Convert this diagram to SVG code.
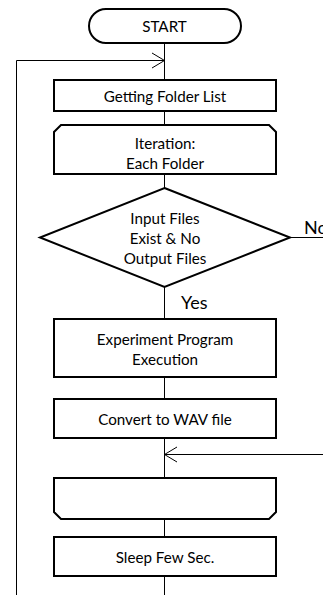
<svg xmlns="http://www.w3.org/2000/svg" width="323" height="595" viewBox="0 0 323 595">
  <style>
    .box { fill: #fff; stroke: #000; stroke-width: 2; }
    .wire { fill: none; stroke: #000; stroke-width: 1; }
    .lbl { font-family: Lato, "Liberation Sans", sans-serif; font-size: 15.2px; fill: #000; text-anchor: middle; dominant-baseline: central; }
    .big { font-size: 18px; text-anchor: start; }
  </style>

  <g id="connectors">
    <!-- main spine -->
    <line class="wire" x1="164.5" y1="43" x2="164.5" y2="595"/>
    <!-- return loop on the left -->
    <polyline class="wire" points="16.5,595 16.5,60.5 164.5,60.5"/>
    <polyline class="wire" points="152,53 164.5,60.5 152,68"/>
    <!-- "No" branch leaving to the right -->
    <line class="wire" x1="290" y1="237.5" x2="323" y2="237.5"/>
    <!-- join coming back from the right -->
    <line class="wire" x1="164.5" y1="454.5" x2="323" y2="454.5"/>
    <polyline class="wire" points="177,447 164.5,454.5 177,462"/>
  </g>

  <g id="start">
    <rect class="box" x="89" y="9" width="152" height="34" rx="17"/>
    <text class="lbl" x="164.5" y="26">START</text>
  </g>

  <g id="folder-list">
    <rect class="box" x="54" y="80" width="222" height="31"/>
    <text class="lbl" x="165" y="96">Getting Folder List</text>
  </g>

  <g id="loop-begin">
    <path class="box" d="M61,125 H269 L276,132 V174 H54 V132 Z"/>
    <text class="lbl" x="165" y="143">Iteration:</text>
    <text class="lbl" x="165" y="163">Each Folder</text>
  </g>

  <g id="check-files">
    <path class="box" d="M164.5,188 L290,237.5 L164.5,287 L40,237.5 Z"/>
    <text class="lbl" x="165" y="218">Input Files</text>
    <text class="lbl" x="165" y="238">Exist &amp; No</text>
    <text class="lbl" x="165" y="258">Output Files</text>
    <text class="lbl big" x="304" y="227">No</text>
    <text class="lbl big" x="181" y="302">Yes</text>
  </g>

  <g id="run-program">
    <rect class="box" x="54" y="319" width="222" height="58"/>
    <text class="lbl" x="165" y="339">Experiment Program</text>
    <text class="lbl" x="165" y="359">Execution</text>
  </g>

  <g id="convert-wav">
    <rect class="box" x="54" y="399" width="222" height="39"/>
    <text class="lbl" x="165" y="419">Convert to WAV file</text>
  </g>

  <g id="loop-end">
    <path class="box" d="M54,478 H276 V512 L269,519 H61 L54,512 Z"/>
  </g>

  <g id="sleep">
    <rect class="box" x="54" y="537" width="222" height="39"/>
    <text class="lbl" x="165" y="557">Sleep Few Sec.</text>
  </g>
</svg>
